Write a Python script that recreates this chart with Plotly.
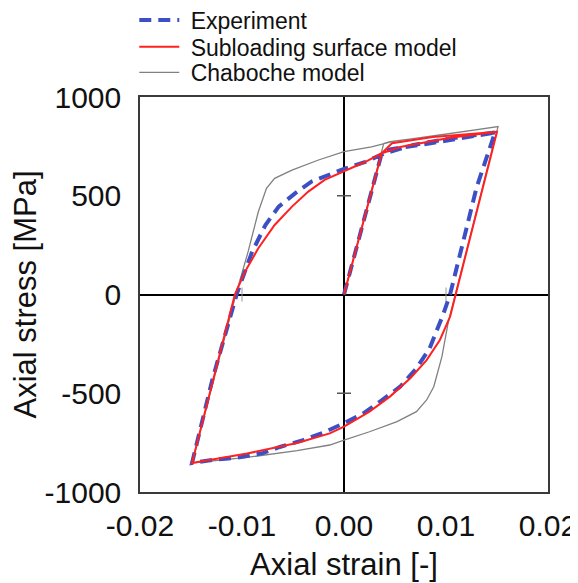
import plotly.graph_objects as go

# ---------------- data ----------------
exp_strain = [0.0, 0.0037, 0.0045, 0.0062, 0.0085, 0.0104, 0.0125, 0.0148,
              0.0130, 0.0117, 0.0104, 0.0097, 0.0084, 0.0071, 0.0055, 0.0035, 0.0019, 0.0,
              -0.0021, -0.0040, -0.0063, -0.0079, -0.0105, -0.0128, -0.0149,
              -0.0129, -0.0105, -0.0090, -0.0077, -0.0064, -0.0048, -0.0032, -0.0012, 0.0,
              0.0021, 0.0040, 0.0068, 0.0104, 0.0130, 0.0148]
exp_stress = [0, 715, 735, 747, 766, 782, 800, 820,
              542, 276, 0, -104, -272, -374, -467, -543, -602, -652,
              -701, -737, -772, -802, -827, -837, -853,
              -430, 5, 217, 352, 445, 512, 571, 614, 636,
              672, 715, 757, 790, 808, 820]

sub_strain = [0.0, 0.0037, 0.0047, 0.0087, 0.0150,
              0.0110, 0.0104, 0.0094, 0.0081, 0.0065, 0.0045, 0.0025, 0.0, -0.0014,
              -0.0046, -0.0095, -0.0149,
              -0.0107, -0.0097, -0.0084, -0.0068, -0.0051, -0.0035, -0.0019, 0.0,
              0.0021, 0.0037, 0.0055, 0.0104, 0.0150]
sub_stress = [0, 715, 766, 797, 824,
              0, -112, -230, -332, -424, -517, -593, -669, -703,
              -752, -805, -853,
              0, 116, 234, 352, 445, 521, 580, 622,
              672, 715, 747, 794, 824]

cha_strain = [0.0, 0.0039, 0.0045, 0.0087, 0.0151,
              0.0109, 0.0102, 0.0096, 0.0088, 0.0081, 0.0071, 0.0052, 0.0025, 0.0,
              -0.0014, -0.0046, -0.0095, -0.0149,
              -0.0106, -0.0094, -0.0084, -0.0076, -0.0068, -0.0051, -0.0025, 0.0,
              0.0027, 0.0047, 0.0087, 0.0151]
cha_stress = [0, 765, 774, 802, 850,
              0, -146, -315, -467, -534, -593, -644, -695, -737,
              -762, -790, -825, -853,
              0, 217, 419, 538, 588, 630, 681, 723,
              748, 774, 802, 850]

x_ticks = [-0.02, -0.01, 0.0, 0.01, 0.02]
x_tick_labels = ["-0.02", "-0.01", "0.00", "0.01", "0.02"]
y_ticks = [-1000, -500, 0, 500, 1000]
y_tick_labels = ["-1000", "-500", "0", "500", "1000"]

# small tick marks on the central axes
axis_tick_x_v = [0.0, 0.0]
axis_tick_y_v = [500, -500]
axis_tick_x_h = [-0.01, 0.01]
axis_tick_y_h = [0, 0]

FONT = "Liberation Sans, Arial, sans-serif"
TXT = "#111111"

fig = go.Figure()

# center-axis tick marks
fig.add_trace(go.Scatter(x=axis_tick_x_v, y=axis_tick_y_v, mode="markers",
                         marker=dict(symbol="line-ew", size=10,
                                     line=dict(width=1.5, color="#555555")),
                         showlegend=False, hoverinfo="skip"))
fig.add_trace(go.Scatter(x=axis_tick_x_h, y=axis_tick_y_h, mode="markers",
                         marker=dict(symbol="line-ns", size=10,
                                     line=dict(width=1, color="#999999")),
                         showlegend=False, hoverinfo="skip"))

fig.add_trace(go.Scatter(x=cha_strain, y=cha_stress, mode="lines",
                         name=" Chaboche model", legend="legend3",
                         line=dict(color="#808080", width=1.3)))
fig.add_trace(go.Scatter(x=exp_strain, y=exp_stress, mode="lines",
                         name=" Experiment", legend="legend",
                         line=dict(color="#3d4fc4", width=4, dash="12px,7px")))
fig.add_trace(go.Scatter(x=sub_strain, y=sub_stress, mode="lines",
                         name=" Subloading surface model", legend="legend2",
                         line=dict(color="#ff2020", width=2)))

axis_common = dict(showgrid=False, zeroline=True, zerolinecolor="#000000",
                   zerolinewidth=1.5, showline=True, mirror=True,
                   linecolor="#3a3a3a", linewidth=1.5, ticks="",
                   tickfont=dict(family=FONT, size=30, color=TXT))

fig.update_xaxes(range=[-0.02, 0.02], tickvals=x_ticks, ticktext=x_tick_labels,
                 ticklabelstandoff=6,
                 title=dict(text="Axial strain [-]", standoff=13,
                            font=dict(family=FONT, size=31, color=TXT)),
                 **axis_common)
fig.update_yaxes(range=[-1000, 1000], tickvals=y_ticks, ticktext=y_tick_labels,
                 ticklabelstandoff=11,
                 title=dict(text="Axial stress [MPa]", standoff=13,
                            font=dict(family=FONT, size=31, color=TXT)),
                 **axis_common)

leg_common = dict(x=-0.014, xanchor="left", yanchor="middle",
                  bgcolor="rgba(0,0,0,0)", itemwidth=40,
                  font=dict(family=FONT, size=23, color=TXT))

fig.update_layout(
    width=570, height=575,
    margin=dict(l=132, r=30, t=89, b=91, autoexpand=False),
    paper_bgcolor="white", plot_bgcolor="white",
    font=dict(family=FONT, color=TXT),
    showlegend=True,
    legend=dict(y=1.195, **leg_common),
    legend2=dict(y=1.127, **leg_common),
    legend3=dict(y=1.062, **leg_common),
)

fig.write_html("out.html")
